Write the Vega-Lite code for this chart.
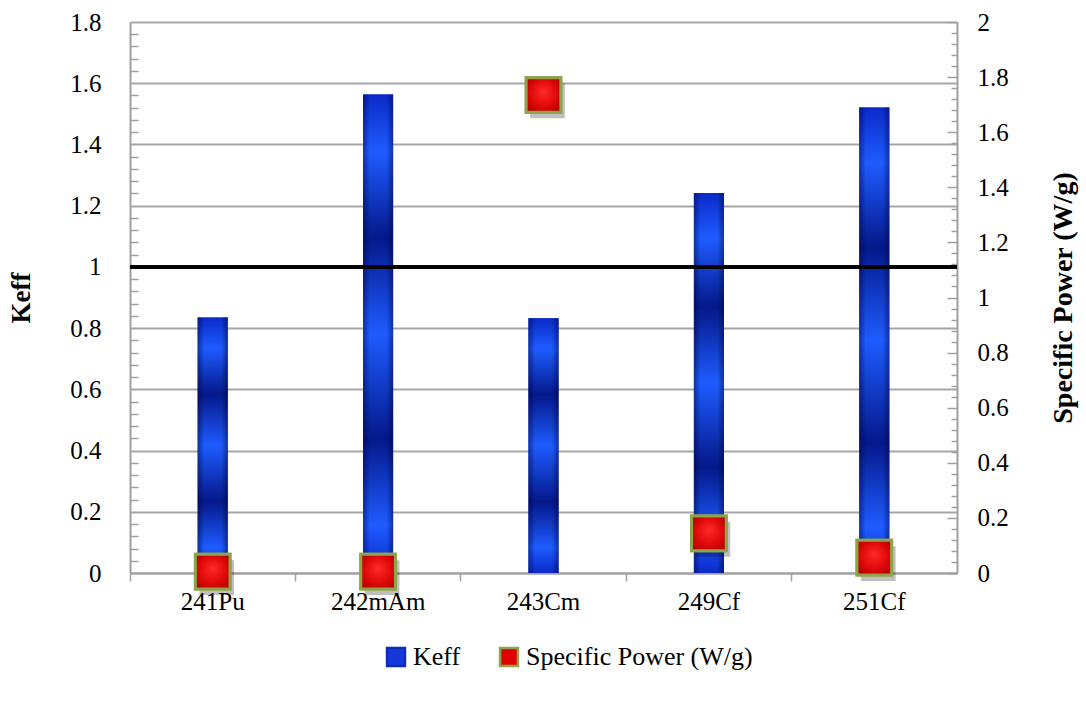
{
  "$schema": "https://vega.github.io/schema/vega-lite/v6.json",
  "autosize": {"type": "none"},
  "padding": {"left": 130, "top": 22, "right": 129, "bottom": 129},
  "width": 827,
  "height": 551,
  "background": "white",
  "config": {
    "font": "Liberation Serif",
    "view": {"stroke": null},
    "axis": {
      "labelFont": "Liberation Serif",
      "labelFontSize": 25,
      "labelColor": "black",
      "titleFont": "Liberation Serif",
      "titleFontSize": 27,
      "titleFontWeight": "bold",
      "titleColor": "black",
      "domainColor": "#a0a0a0",
      "domainWidth": 2,
      "tickColor": "#a0a0a0",
      "tickWidth": 1.5
    }
  },
  "data": {
    "values": [
      {"isotope": "241Pu", "keff": 0.835, "power": 0.005},
      {"isotope": "242mAm", "keff": 1.563, "power": 0.005},
      {"isotope": "243Cm", "keff": 0.832, "power": 1.735},
      {"isotope": "249Cf", "keff": 1.241, "power": 0.144},
      {"isotope": "251Cf", "keff": 1.521, "power": 0.056}
    ]
  },
  "layer": [
    {
      "layer": [
        {
          "mark": {"type": "bar", "size": 30},
          "encoding": {
            "x": {
              "field": "isotope",
              "type": "nominal",
              "sort": null,
              "scale": {"paddingInner": 0, "paddingOuter": 0},
              "axis": {
                "title": null,
                "labelAngle": 0,
                "labelPadding": 8,
                "tickSize": 8,
                "bandPosition": 0,
                "grid": false
              }
            },
            "y": {
              "field": "keff",
              "type": "quantitative",
              "scale": {"domain": [0, 1.8], "nice": false},
              "axis": {
                "title": "Keff",
                "titlePadding": 34,
                "orient": "left",
                "values": [0, 0.2, 0.4, 0.6, 0.8, 1, 1.2, 1.4, 1.6, 1.8],
                "format": ".1~f",
                "tickSize": 0,
                "labelPadding": 29,
                "grid": true,
                "gridColor": "#a6a6a6",
                "gridWidth": 2
              }
            },
            "color": {
              "datum": "Keff",
              "type": "nominal",
              "scale": {"domain": ["Keff", "Specific Power (W/g)"], "range": ["#1638d8", "#e00000"]},
              "legend": {
                "orient": "none",
                "legendX": 253,
                "legendY": 622,
                "direction": "horizontal",
                "title": null,
                "symbolType": "square",
                "symbolSize": 320,
                "labelFont": "Liberation Serif",
                "labelFontSize": 26,
                "labelColor": "black",
                "labelOffset": 4,
                "labelLimit": 400,
                "columnPadding": 34,
                "encode": {
                  "symbols": {
                    "update": {
                      "stroke": {"signal": "datum.value === 'Keff' ? '#0c2cc0' : '#8fa34a'"},
                      "strokeWidth": {"value": 2.5}
                    }
                  }
                }
              }
            }
          }
        },
        {
          "mark": {
            "type": "bar",
            "size": 30,
            "fill": {
              "gradient": "linear",
              "x1": 0, "y1": 0, "x2": 0, "y2": 1,
              "stops": [
                {"offset": 0, "color": "#0a2ac8"},
                {"offset": 0.12, "color": "#1e5cff"},
                {"offset": 0.3, "color": "#04188a"},
                {"offset": 0.5, "color": "#1e5cff"},
                {"offset": 0.72, "color": "#04188a"},
                {"offset": 0.9, "color": "#1e5cff"},
                {"offset": 1, "color": "#0a2ac8"}
              ]
            }
          },
          "encoding": {
            "x": {"field": "isotope", "type": "nominal", "sort": null},
            "y": {
              "field": "keff",
              "type": "quantitative",
              "axis": {
                "title": null,
                "orient": "left",
                "values": [0.04, 0.08, 0.12, 0.16, 0.24, 0.28, 0.32, 0.36, 0.44, 0.48, 0.52, 0.56, 0.64, 0.68, 0.72, 0.76, 0.84, 0.88, 0.92, 0.96, 1.04, 1.08, 1.12, 1.16, 1.24, 1.28, 1.32, 1.36, 1.44, 1.48, 1.52, 1.56, 1.64, 1.68, 1.72, 1.76],
                "labels": false,
                "domain": false,
                "grid": false,
                "tickSize": -8
              }
            }
          }
        },
        {
          "mark": {
            "type": "bar",
            "size": 30,
            "fill": {
              "gradient": "linear",
              "x1": 0, "y1": 0, "x2": 1, "y2": 0,
              "stops": [
                {"offset": 0, "color": "rgba(0,0,50,0.45)"},
                {"offset": 0.22, "color": "rgba(0,0,50,0)"},
                {"offset": 0.78, "color": "rgba(0,0,50,0)"},
                {"offset": 1, "color": "rgba(0,0,50,0.45)"}
              ]
            }
          },
          "encoding": {
            "x": {"field": "isotope", "type": "nominal", "sort": null},
            "y": {"field": "keff", "type": "quantitative", "axis": null}
          }
        },
        {
          "mark": {"type": "rule", "color": "black", "strokeWidth": 3},
          "encoding": {
            "y": {"datum": 1, "type": "quantitative", "axis": null}
          }
        }
      ],
      "resolve": {"axis": {"y": "independent"}}
    },
    {
      "layer": [
        {
          "mark": {"type": "point", "shape": "square", "filled": true, "size": 1200, "color": "#000000", "opacity": 0.25, "xOffset": 4, "yOffset": 6},
          "encoding": {
            "x": {"field": "isotope", "type": "nominal", "sort": null},
            "y": {
              "field": "power",
              "type": "quantitative",
              "scale": {"domain": [0, 2], "nice": false},
              "axis": {
                "title": "Specific Power (W/g)",
                "titleAngle": -90,
                "titleFontSize": 28,
                "titlePadding": 69,
                "orient": "right",
                "values": [0, 0.2, 0.4, 0.6, 0.8, 1, 1.2, 1.4, 1.6, 1.8, 2],
                "format": ".1~f",
                "tickSize": -10,
                "labelPadding": 30,
                "grid": false
              }
            }
          }
        },
        {
          "mark": {"type": "point", "shape": "square", "filled": true, "size": 1200, "stroke": "#8fa34a", "strokeWidth": 3, "opacity": 1},
          "encoding": {
            "x": {"field": "isotope", "type": "nominal", "sort": null},
            "y": {
              "field": "power",
              "type": "quantitative",
              "axis": {
                "title": null,
                "orient": "right",
                "values": [0.04, 0.08, 0.12, 0.16, 0.24, 0.28, 0.32, 0.36, 0.44, 0.48, 0.52, 0.56, 0.64, 0.68, 0.72, 0.76, 0.84, 0.88, 0.92, 0.96, 1.04, 1.08, 1.12, 1.16, 1.24, 1.28, 1.32, 1.36, 1.44, 1.48, 1.52, 1.56, 1.64, 1.68, 1.72, 1.76, 1.84, 1.88, 1.92, 1.96],
                "labels": false,
                "domain": false,
                "grid": false,
                "tickSize": -6
              }
            },
            "color": {"datum": "Specific Power (W/g)", "type": "nominal"}
          }
        },
        {
          "mark": {
            "type": "point",
            "shape": "square",
            "size": 1200,
            "strokeWidth": 3,
            "stroke": "#8fa34a",
            "opacity": 1,
            "fill": {
              "gradient": "radial",
              "x1": 0.5, "y1": 0.4, "r1": 0,
              "x2": 0.5, "y2": 0.5, "r2": 0.7,
              "stops": [
                {"offset": 0, "color": "#ff2a2a"},
                {"offset": 0.55, "color": "#e00808"},
                {"offset": 1, "color": "#a00000"}
              ]
            }
          },
          "encoding": {
            "x": {"field": "isotope", "type": "nominal", "sort": null},
            "y": {"field": "power", "type": "quantitative", "axis": null}
          }
        }
      ],
      "resolve": {"axis": {"y": "independent"}}
    }
  ],
  "resolve": {"scale": {"y": "independent"}}
}
